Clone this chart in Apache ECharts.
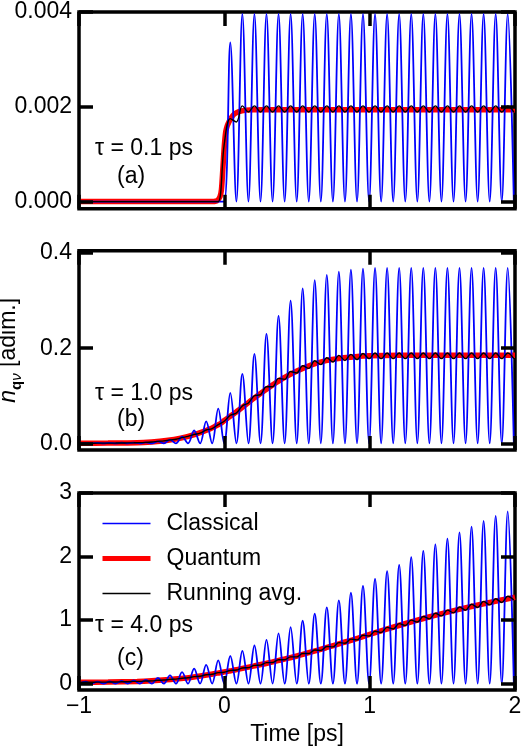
<!DOCTYPE html>
<html><head><meta charset="utf-8">
<script src="https://cdn.jsdelivr.net/npm/echarts@6/dist/echarts.min.js"></script>
<style>html,body{margin:0;padding:0;background:#fff}#c{width:521px;height:750px}</style>
</head><body><div id="c"></div>
<script>
// ---- data ----
const xTicks = [-1, 0, 1, 2];
const yTicksA = [0, 0.002, 0.004];
const yTicksB = [0, 0.2, 0.4];
const yTicksC = [0, 1, 2, 3];
const panelTags = ['τ = 0.1 ps', 'τ = 1.0 ps', 'τ = 4.0 ps'];
const panelLetters = ['(a)', '(b)', '(c)'];
const seriesNames = ['Classical', 'Quantum', 'Running avg.'];

// times of the oscillation maxima / minima (ps)
const peakTimes = [-0.955,-0.872,-0.789,-0.706,-0.623,-0.540,-0.457,-0.374,-0.291,-0.208,-0.125,-0.042,0.041,0.124,0.207,0.290,0.373,0.456,0.539,0.622,0.705,0.788,0.871,0.954,1.037,1.120,1.203,1.286,1.369,1.452,1.535,1.618,1.701,1.784,1.867,1.950];
const troughTimes = [-0.997,-0.914,-0.831,-0.748,-0.665,-0.582,-0.499,-0.416,-0.333,-0.250,-0.167,-0.084,-0.001,0.083,0.166,0.249,0.332,0.415,0.498,0.581,0.664,0.747,0.830,0.913,0.996,1.079,1.162,1.245,1.328,1.411,1.494,1.577,1.660,1.743,1.826,1.909,1.992];

// classical: minima values (all panels) and maxima per panel
const classicalTroughs = [0,0,0,0,0,0,0,0,0,0,0,0,0,0,0,0,0,0,0,0,0,0,0,0,0,0,0,0,0,0,0,0,0,0,0,0,0];
const classicalPeaksA = [0,0,0,0,0,0,0,0,0,0,0,0,0.00336,0.00396,0.00396,0.00396,0.00396,0.00396,0.00396,0.00396,0.00396,0.00396,0.00396,0.00396,0.00396,0.00396,0.00396,0.00396,0.00396,0.00396,0.00396,0.00396,0.00396,0.00396,0.00396,0.00396];
const classicalPeaksB = [0.0005,0.0007,0.001,0.0013,0.0017,0.002,0.004,0.008,0.014,0.027,0.046,0.073,0.106,0.146,0.188,0.23,0.268,0.3,0.326,0.343,0.354,0.361,0.365,0.367,0.369,0.369,0.369,0.369,0.369,0.369,0.369,0.369,0.369,0.369,0.369,0.369];
const classicalPeaksC = [0.03,0.033,0.037,0.042,0.05,0.06,0.09,0.13,0.18,0.235,0.295,0.365,0.435,0.515,0.6,0.69,0.79,0.89,0.99,1.1,1.2,1.31,1.43,1.54,1.65,1.77,1.87,1.99,2.09,2.19,2.28,2.38,2.47,2.56,2.64,2.71];

// quantum
const quantumTimes = [-1,-0.8,-0.6,-0.5,-0.4,-0.3,-0.2,-0.1,-0.05,-0.03,-0.02,-0.01,0,0.01,0.02,0.03,0.05,0.07,0.1,0.15,0.2,0.3,0.4,0.5,0.6,0.7,0.8,0.9,1.0,1.2,1.4,1.6,1.8,2.0];
const quantumA = [0,0,0,0,0,0,0,0,0.00002,0.0001,0.00025,0.0007,0.00118,0.00148,0.0016,0.00167,0.00178,0.00185,0.0019,0.00193,0.00194,0.00194,0.00194,0.00194,0.00194,0.00194,0.00194,0.00194,0.00194,0.00194,0.00194,0.00194,0.00194,0.00194];
const quantumB = [0.0003,0.0005,0.0012,0.003,0.006,0.011,0.019,0.03,0.038,0.041,0.043,0.0455,0.048,0.0502,0.0524,0.0546,0.059,0.0634,0.07,0.082,0.094,0.116,0.136,0.152,0.165,0.174,0.179,0.182,0.184,0.185,0.185,0.185,0.185,0.185];
const quantumC = [0.02,0.025,0.035,0.045,0.06,0.08,0.11,0.145,0.165,0.172,0.176,0.18,0.185,0.189,0.193,0.197,0.205,0.214,0.228,0.252,0.276,0.325,0.38,0.435,0.5,0.565,0.635,0.70,0.775,0.915,1.045,1.16,1.265,1.36];

// running average: values at the same maxima / minima times
const avgPeaksA = [0,0,0,0,0,0,0,0,0,0,0,0,0.00175,0.00202,0.00202,0.00202,0.00202,0.00202,0.00202,0.00202,0.00202,0.00202,0.00202,0.00202,0.00202,0.00202,0.00202,0.00202,0.00202,0.00202,0.00202,0.00202,0.00202,0.00202,0.00202,0.00202];
const avgTroughsA = [0,0,0,0,0,0,0,0,0,0,0,0,0.0012,0.00168,0.00189,0.00189,0.00189,0.00189,0.00189,0.00189,0.00189,0.00189,0.00189,0.00189,0.00189,0.00189,0.00189,0.00189,0.00189,0.00189,0.00189,0.00189,0.00189,0.00189,0.00189,0.00189,0.00189];
const avgPeaksB = [0.0003,0.0004,0.0005,0.0008,0.0011,0.002,0.0042,0.0073,0.012,0.0187,0.028,0.0393,0.059,0.0785,0.1,0.119,0.1365,0.151,0.163,0.1735,0.18,0.185,0.187,0.189,0.19,0.19,0.19,0.19,0.19,0.19,0.19,0.19,0.19,0.19,0.19,0.19];
const avgTroughsB = [0.0003,0.0003,0.0005,0.0006,0.0009,0.0014,0.0029,0.0053,0.0087,0.0145,0.0213,0.031,0.0464,0.0638,0.085,0.1025,0.119,0.1345,0.148,0.1575,0.1655,0.171,0.174,0.176,0.178,0.178,0.178,0.178,0.178,0.178,0.178,0.178,0.178,0.178,0.178,0.178,0.178];
const avgPeaksC = [0.0216,0.0237,0.0258,0.031,0.035,0.042,0.0525,0.067,0.0855,0.111,0.14,0.173,0.207,0.247,0.287,0.33,0.376,0.422,0.474,0.529,0.585,0.646,0.70,0.762,0.825,0.885,0.945,1.0,1.056,1.108,1.157,1.205,1.249,1.295,1.336,1.376];
const avgTroughsC = [0.0194,0.0213,0.0233,0.0262,0.031,0.0359,0.0437,0.0563,0.0708,0.092,0.116,0.147,0.179,0.214,0.252,0.291,0.332,0.376,0.421,0.474,0.524,0.579,0.636,0.688,0.749,0.805,0.861,0.916,0.969,1.02,1.066,1.114,1.156,1.198,1.239,1.277,1.315];

// ---- build ----
const FONT = '"Liberation Sans", Arial, Helvetica, sans-serif';
const FS = 23;
function interleave(tr, pk) {
  const out = [];
  for (let i = 0; i < pk.length; i++) {
    out.push([troughTimes[i], tr[i]]);
    out.push([peakTimes[i], pk[i]]);
  }
  out.push([troughTimes[pk.length], tr[pk.length]]);
  return out;
}
function pairs(ts, vs) { return ts.map((t, i) => [t, vs[i]]); }

const panels = [
  {top: 12, height: 196.7, min: -0.00015, max: 0.004, ticks: yTicksA, dec: 3,
   cp: classicalPeaksA, q: quantumA, ap: avgPeaksA, at: avgTroughsA, tagY: 150, letY: 178},
  {top: 250.7, height: 199.3, min: -0.014, max: 0.405, ticks: yTicksB, dec: 1,
   cp: classicalPeaksB, q: quantumB, ap: avgPeaksB, at: avgTroughsB, tagY: 395, letY: 421.5},
  {top: 493, height: 197, min: -0.1, max: 3, ticks: yTicksC, dec: 0,
   cp: classicalPeaksC, q: quantumC, ap: avgPeaksC, at: avgTroughsC, tagY: 627, letY: 660}
];

const tick = {show: true, inside: true, length: 14, lineStyle: {width: 3.5, color: '#000'}};
const noLine = {show: false, onZero: false};
const grid = [], xAxis = [], yAxis = [], series = [], graphic = [];
panels.forEach((p, i) => {
  grid.push({left: 79, right: 6, top: p.top, height: p.height, show: true,
    borderColor: '#000', borderWidth: 3.5, backgroundColor: 'transparent',
    containLabel: false, outerBoundsMode: 'none'});
  const last = i === 2;
  xAxis.push({type: 'value', gridIndex: i, min: -1, max: 2, interval: 1, position: 'bottom', z: 10,
    axisLine: noLine, splitLine: {show: false}, axisTick: Object.assign({}, tick, {customValues: xTicks}),
    axisLabel: {show: last, customValues: xTicks, margin: 5, fontSize: FS, fontFamily: FONT, color: '#000',
      formatter: v => (v < 0 ? '\u2212' + Math.abs(v) : String(v))},
    name: last ? 'Time [ps]' : '', nameLocation: 'middle', nameGap: 33,
    nameTextStyle: {fontSize: FS, fontFamily: FONT, color: '#000'}});
  xAxis.push({type: 'value', gridIndex: i, min: -1, max: 2, interval: 1, position: 'top', z: 10,
    axisLine: noLine, splitLine: {show: false}, axisTick: Object.assign({}, tick, {customValues: xTicks}),
    axisLabel: {show: false, customValues: xTicks}});
  const yl = {type: 'value', gridIndex: i, min: p.min, max: p.max, position: 'left', z: 10,
    axisLine: noLine, splitLine: {show: false},
    axisTick: Object.assign({}, tick, {customValues: p.ticks}),
    axisLabel: {customValues: p.ticks, margin: 7, fontSize: FS, fontFamily: FONT, color: '#000',
      formatter: v => Number(v).toFixed(p.dec)}};
  if (i === 1) {
    Object.assign(yl, {
      name: '{n|n}{q|q}{v|ν}{t| [adim.]}', nameLocation: 'middle', nameRotate: 90, nameGap: 55,
      nameTextStyle: {fontFamily: FONT, color: '#000', rich: {
        n: {fontSize: FS, fontStyle: 'italic', fontFamily: FONT, lineHeight: 30, verticalAlign: 'middle'},
        q: {fontSize: 15, fontWeight: 'bold', fontFamily: FONT, lineHeight: 15, verticalAlign: 'bottom'},
        v: {fontSize: 15, fontStyle: 'italic', fontFamily: FONT, lineHeight: 15, verticalAlign: 'bottom'},
        t: {fontSize: FS, fontFamily: FONT, lineHeight: 30, verticalAlign: 'middle'}
      }}
    });
  }
  yAxis.push(yl);
  yAxis.push({type: 'value', gridIndex: i, min: p.min, max: p.max, position: 'right', z: 10,
    axisLine: noLine, splitLine: {show: false},
    axisTick: Object.assign({}, tick, {customValues: p.ticks}),
    axisLabel: {show: false, customValues: p.ticks}});

  series.push({name: 'Quantum', type: 'line', xAxisIndex: 2 * i, yAxisIndex: 2 * i,
    data: pairs(quantumTimes, p.q), symbol: 'none', smooth: 0.3, z: 2,
    lineStyle: {color: '#ff0000', width: 5.5}, itemStyle: {color: '#ff0000'}});
  series.push({name: 'Classical', type: 'line', xAxisIndex: 2 * i, yAxisIndex: 2 * i,
    data: interleave(classicalTroughs, p.cp), symbol: 'none', smooth: 0.36, z: 3,
    lineStyle: {color: '#0000ff', width: 1.8}, itemStyle: {color: '#0000ff'}});
  series.push({name: 'Running avg.', type: 'line', xAxisIndex: 2 * i, yAxisIndex: 2 * i,
    data: interleave(p.at, p.ap), symbol: 'none', smooth: 0.36, z: 4,
    lineStyle: {color: '#000000', width: 1.4}, itemStyle: {color: '#000000'}});

  graphic.push({type: 'text', left: 95, top: p.tagY - 13, z: 20,
    style: {text: panelTags[i], font: FS + 'px ' + FONT, fill: '#000'}});
  graphic.push({type: 'text', left: 117, top: p.letY - 13, z: 20,
    style: {text: panelLetters[i], font: FS + 'px ' + FONT, fill: '#000'}});
});

const hidden = {opacity: 0, color: 'rgba(0,0,0,0)', borderWidth: 0};
const chart = echarts.init(document.getElementById('c'), null, {renderer: 'canvas'});
chart.setOption({
  animation: false,
  backgroundColor: '#fff',
  grid, xAxis, yAxis, series, graphic,
  legend: {
    orient: 'vertical', left: 100, top: 512, padding: 0, itemWidth: 48, itemHeight: 14, itemGap: 12,
    textStyle: {fontSize: FS, fontFamily: FONT, color: '#000', padding: [0, 0, 0, 11], lineHeight: 22},
    data: [
      {name: seriesNames[0], lineStyle: {width: 1.5, color: '#0000ff'}, itemStyle: hidden},
      {name: seriesNames[1], lineStyle: {width: 5, color: '#ff0000'}, itemStyle: hidden},
      {name: seriesNames[2], lineStyle: {width: 1.5, color: '#000000'}, itemStyle: hidden}
    ]
  }
});
</script></body></html>
